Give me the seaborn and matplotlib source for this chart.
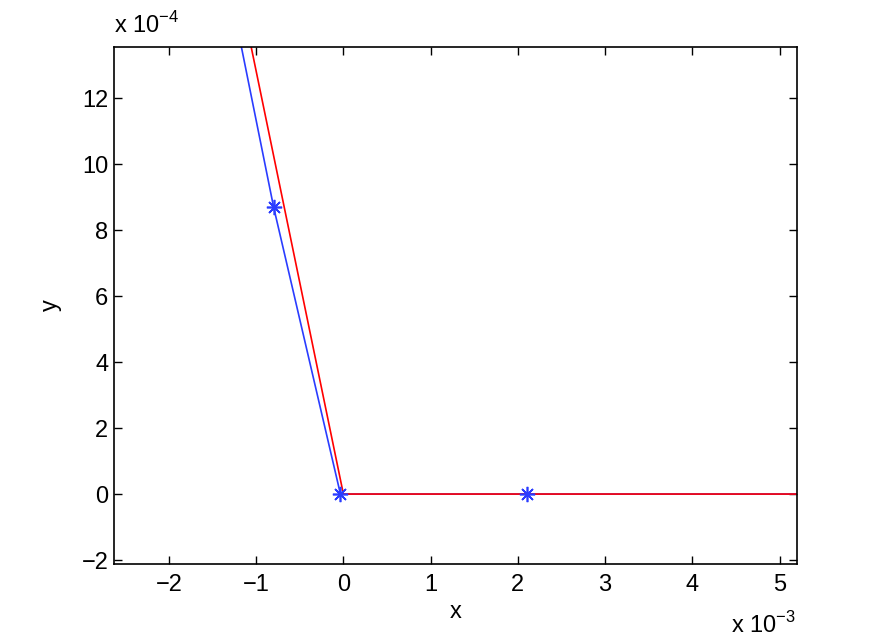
import numpy as np
import pandas as pd
import seaborn as sns
import matplotlib
matplotlib.use("Agg")
import matplotlib.pyplot as plt
from matplotlib.ticker import FuncFormatter

# piecewise-linear curves (real units)
blue_x = [-1.66e-3, -0.80e-3, -0.034e-3, 2.10e-3, 6.0e-3]
blue_y = [20.0e-4, 8.70e-4, 0.0, 0.0, 0.0]
red_x = [-1.56e-3, 0.0, 6.0e-3]
red_y = [20.0e-4, 0.0, 0.0]

# sample points marked with asterisks
pts_x = [-0.80e-3, -0.034e-3, 2.10e-3]
pts_y = [8.70e-4, 0.0, 0.0]

sns.set_style("ticks")
plt.rcParams['font.family'] = ['Liberation Sans', 'DejaVu Sans']
plt.rcParams['mathtext.fontset'] = 'custom'
plt.rcParams['mathtext.rm'] = 'Liberation Sans'
plt.rcParams['text.color'] = 'black'
plt.rcParams['axes.labelcolor'] = 'black'
plt.rcParams['xtick.color'] = 'black'
plt.rcParams['ytick.color'] = 'black'

fig = plt.figure(figsize=(8.8, 6.38), dpi=100)
ax = fig.add_axes([0.1295, 0.116, 0.7762, 0.8103])

blue = "#2a3cff"
df_b = pd.DataFrame({"x": blue_x, "y": blue_y})
df_r = pd.DataFrame({"x": red_x, "y": red_y})
sns.lineplot(data=df_b, x="x", y="y", sort=False, estimator=None, color=blue, lw=1.2, ax=ax)
sns.lineplot(data=df_r, x="x", y="y", sort=False, estimator=None, color="red", lw=1.2, ax=ax)
ax.plot(pts_x, pts_y, linestyle="none", marker=(8, 2, 0), markersize=11,
        markeredgecolor=blue, markeredgewidth=1.2, color=blue)

ax.set_xlim(-2.63e-3, 5.2e-3)
ax.set_ylim(-2.12e-4, 13.55e-4)
ax.set_xticks(np.arange(-2, 6) * 1e-3)
ax.set_yticks(np.arange(-2, 13, 2) * 1e-4)
ax.xaxis.set_major_formatter(FuncFormatter(lambda v, p: f"{v*1e3:.0f}".replace("-", "\u2212")))
ax.yaxis.set_major_formatter(FuncFormatter(lambda v, p: f"{v*1e4:.0f}".replace("-", "\u2212")))

ax.tick_params(direction="in", length=6, width=1, labelsize=17, top=True, right=True,
               color="black", labelcolor="black")
ax.tick_params(axis="y", pad=4)
ax.tick_params(axis="x", pad=7)
for s in ax.spines.values():
    s.set_visible(True)
    s.set_linewidth(1.2)
    s.set_color("black")

ax.set_xlabel("x", fontsize=17, labelpad=4)
ax.set_ylabel("y", fontsize=17, labelpad=14)

fig.text(0.130, 0.94, r"x 10$^{-4}$", fontsize=17, ha="left", va="bottom")
fig.text(0.905, 0.0, r"x 10$^{-3}$", fontsize=17, ha="right", va="bottom")

fig.savefig("out.png", dpi=100, facecolor="white")
